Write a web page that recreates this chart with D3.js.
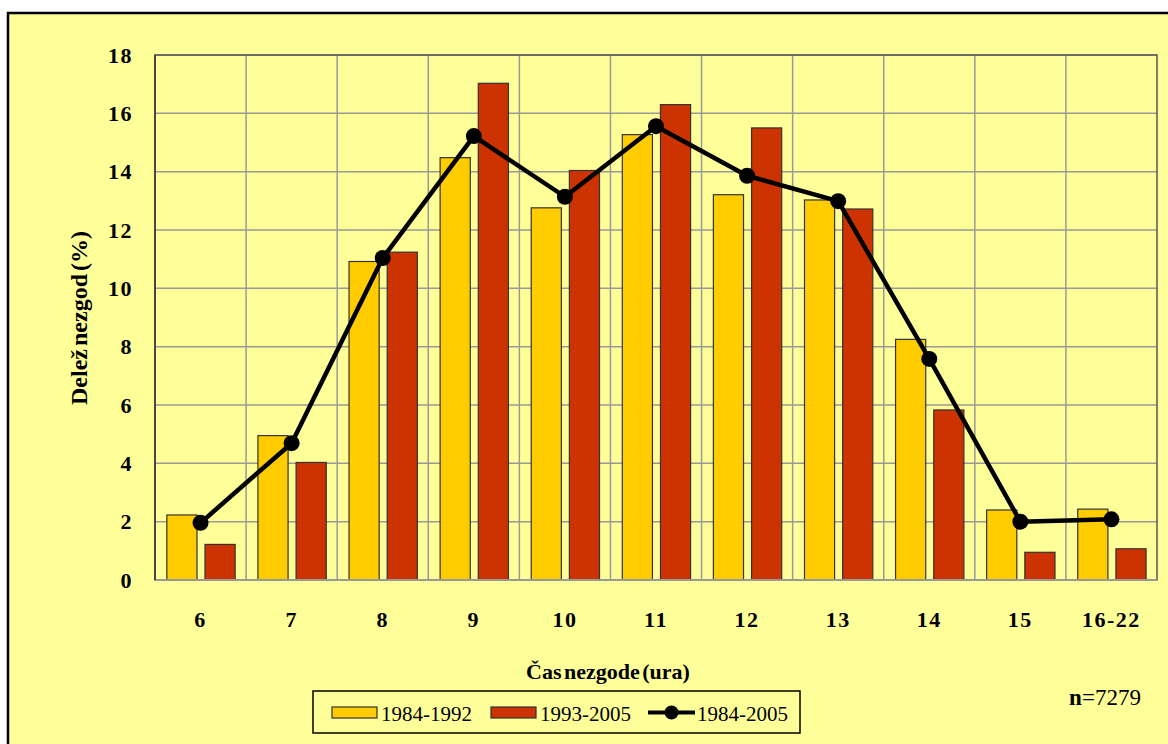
<!DOCTYPE html>
<html>
<head>
<meta charset="utf-8">
<script src="https://cdn.jsdelivr.net/npm/d3@7"></script>
<style>
  body { margin: 0; background: #fff; }
  svg text { font-family: "Liberation Serif", "Times New Roman", serif; fill: #000; }
</style>
</head>
<body>
<svg id="chart" width="1168" height="744"></svg>
<script>
// hours of the day (category axis)
var hours = ["6", "7", "8", "9", "10", "11", "12", "13", "14", "15", "16-22"];
// share of accidents (%) per period
var period1 = [2.23, 4.95, 10.92, 14.48, 12.76, 15.27, 13.21, 13.03, 8.25, 2.40, 2.43];
var period2 = [1.22, 4.03, 11.24, 17.03, 14.04, 16.30, 15.50, 12.72, 5.83, 0.95, 1.07];
var periodAll = [1.96, 4.69, 11.04, 15.22, 13.14, 15.56, 13.86, 12.99, 7.58, 2.00, 2.08];
var seriesNames = ["1984-1992", "1993-2005", "1984-2005"];
var yTicks = [0, 2, 4, 6, 8, 10, 12, 14, 16, 18];

var colors = {"1984-1992": "#FFCC00", "1993-2005": "#CC3300"};

var svg = d3.select("#chart");

// page background + outer frame
svg.append("rect")
    .attr("x", 8).attr("y", 13)
    .attr("width", 1170).attr("height", 750)
    .attr("fill", "#FFFF99")
    .attr("stroke", "#000")
    .attr("stroke-width", 2.5);

var margin = {left: 155, top: 55, right: 1157, bottom: 580};

var x0 = d3.scaleBand()
    .domain(hours)
    .range([margin.left, margin.right])
    .padding(0);

var x1 = d3.scaleBand()
    .domain(seriesNames.slice(0, 2))
    .range([x0.bandwidth() * 0.13, x0.bandwidth() * 0.88])
    .paddingInner(0.21);

var y = d3.scaleLinear()
    .domain([0, 18])
    .range([margin.bottom, margin.top]);

var plot = svg.append("g");

// horizontal grid
plot.selectAll("line.hgrid")
    .data(yTicks.slice(1))
    .enter()
    .append("line")
    .attr("class", "hgrid")
    .attr("x1", margin.left).attr("x2", margin.right)
    .attr("y1", function(d){ return y(d); })
    .attr("y2", function(d){ return y(d); })
    .attr("stroke", "#999")
    .attr("stroke-width", 1.5);

// vertical grid at category borders
plot.selectAll("line.vgrid")
    .data(hours.slice(1))
    .enter()
    .append("line")
    .attr("class", "vgrid")
    .attr("x1", function(d){ return x0(d); })
    .attr("x2", function(d){ return x0(d); })
    .attr("y1", margin.top).attr("y2", margin.bottom)
    .attr("stroke", "#999")
    .attr("stroke-width", 1.5);

// plot frame
plot.append("rect")
    .attr("x", margin.left).attr("y", margin.top)
    .attr("width", margin.right - margin.left)
    .attr("height", margin.bottom - margin.top)
    .attr("fill", "none")
    .attr("stroke", "#555")
    .attr("stroke-width", 1.5);

// bars
var barData = [];
for (var i = 0; i != hours.length; i++) {
    barData.push({hour: hours[i], name: "1984-1992", value: period1[i]});
    barData.push({hour: hours[i], name: "1993-2005", value: period2[i]});
}

plot.selectAll("rect.bar")
    .data(barData)
    .enter()
    .append("rect")
    .attr("class", "bar")
    .attr("x", function(d){ return x0(d.hour) + x1(d.name); })
    .attr("y", function(d){ return y(d.value); })
    .attr("width", x1.bandwidth())
    .attr("height", function(d){ return y(0) - y(d.value); })
    .attr("fill", function(d){ return colors[d.name]; })
    .attr("stroke", "#333")
    .attr("stroke-width", 1.2);

// bottom axis line
plot.append("line")
    .attr("x1", margin.left).attr("x2", margin.right)
    .attr("y1", y(0)).attr("y2", y(0))
    .attr("stroke", "#999")
    .attr("stroke-width", 2);

// left axis line
plot.append("line")
    .attr("x1", margin.left).attr("x2", margin.left)
    .attr("y1", margin.top).attr("y2", margin.bottom)
    .attr("stroke", "#333")
    .attr("stroke-width", 1.5);

// line series
var lineGen = d3.line()
    .x(function(d, i){ return x0(hours[i]) + x0.bandwidth() / 2; })
    .y(function(d){ return y(d); });

plot.append("path")
    .datum(periodAll)
    .attr("d", lineGen)
    .attr("fill", "none")
    .attr("stroke", "#000")
    .attr("stroke-width", 4.5)
    .attr("stroke-linejoin", "round");

plot.selectAll("circle.pt")
    .data(periodAll)
    .enter()
    .append("circle")
    .attr("class", "pt")
    .attr("cx", function(d, i){ return x0(hours[i]) + x0.bandwidth() / 2; })
    .attr("cy", function(d){ return y(d); })
    .attr("r", 8)
    .attr("fill", "#000");

// y tick labels
plot.selectAll("text.ytick")
    .data(yTicks)
    .enter()
    .append("text")
    .attr("class", "ytick")
    .attr("x", 133)
    .attr("y", function(d){ return y(d); })
    .attr("dy", "0.35em")
    .attr("text-anchor", "end")
    .attr("font-size", 22)
    .attr("font-weight", "bold")
    .attr("letter-spacing", 1.5)
    .text(function(d){ return d; });

// x tick labels
plot.selectAll("text.xtick")
    .data(hours)
    .enter()
    .append("text")
    .attr("class", "xtick")
    .attr("x", function(d){ return x0(d) + x0.bandwidth() / 2; })
    .attr("y", 627)
    .attr("text-anchor", "middle")
    .attr("font-size", 22)
    .attr("font-weight", "bold")
    .attr("letter-spacing", 1.5)
    .text(function(d){ return d; });

// axis titles
svg.append("text")
    .attr("transform", "translate(87,318) rotate(-90)")
    .attr("text-anchor", "middle")
    .attr("font-size", 24)
    .attr("font-weight", "bold")
    .attr("word-spacing", -3)
    .text("Delež nezgod (%)");

svg.append("text")
    .attr("x", 608)
    .attr("y", 679)
    .attr("text-anchor", "middle")
    .attr("font-size", 22)
    .attr("font-weight", "bold")
    .attr("word-spacing", -3)
    .text("Čas nezgode (ura)");

var nLabel = svg.append("text")
    .attr("x", 1105)
    .attr("y", 705)
    .attr("text-anchor", "middle")
    .attr("font-size", 23);
nLabel.append("tspan").attr("font-weight", "bold").text("n");
nLabel.append("tspan").text("=7279");

// legend
var legend = svg.append("g");
legend.append("rect")
    .attr("x", 313).attr("y", 691)
    .attr("width", 487).attr("height", 42)
    .attr("fill", "none")
    .attr("stroke", "#000")
    .attr("stroke-width", 1.5);

var legendX = [332, 491, 648];
seriesNames.forEach(function(name, i){
    var lx = legendX[i];
    if (i < 2) {
        legend.append("rect")
            .attr("x", lx).attr("y", 707)
            .attr("width", 45).attr("height", 11)
            .attr("fill", colors[name])
            .attr("stroke", "#333")
            .attr("stroke-width", 1.2);
    } else {
        legend.append("line")
            .attr("x1", lx).attr("x2", lx + 47)
            .attr("y1", 712.5).attr("y2", 712.5)
            .attr("stroke", "#000")
            .attr("stroke-width", 4);
        legend.append("circle")
            .attr("cx", lx + 23.5).attr("cy", 712.5)
            .attr("r", 7)
            .attr("fill", "#000");
    }
    legend.append("text")
        .attr("x", lx + 49)
        .attr("y", 721)
        .attr("font-size", 21)
        .text(name);
});
</script>
</body>
</html>
